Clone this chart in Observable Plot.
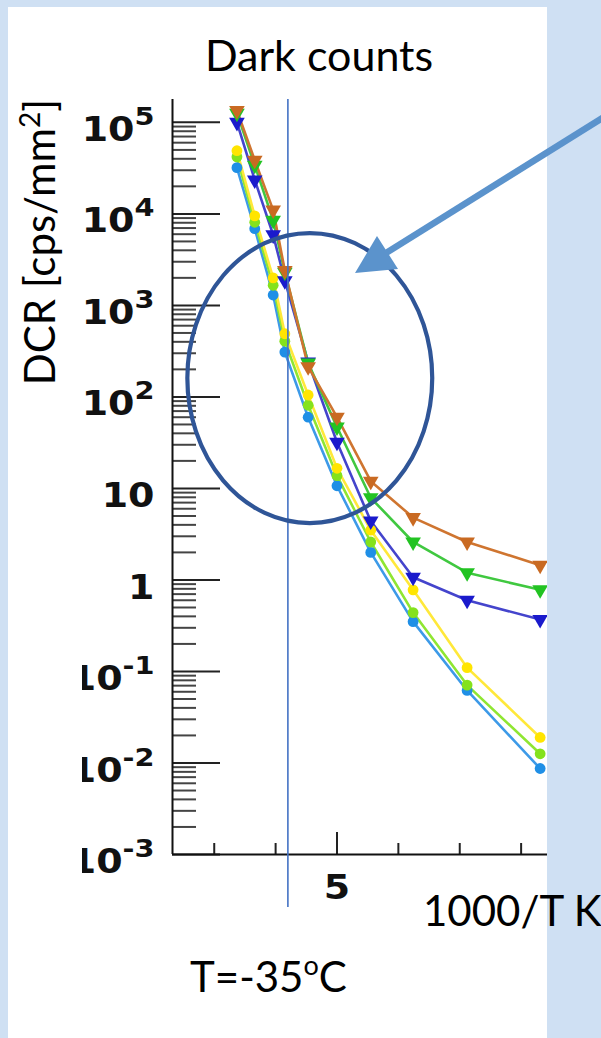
<!DOCTYPE html>
<html><head><meta charset="utf-8">
<script src="https://cdn.jsdelivr.net/npm/d3@7"></script>
<script src="https://cdn.jsdelivr.net/npm/@observablehq/plot@0.6"></script>
<style>
html,body{margin:0;padding:0}
body{width:601px;height:1038px;background:#cfe0f3;position:relative;overflow:hidden;font-family:Lato,"Open Sans",sans-serif}
#panel{position:absolute;left:8px;top:7px;width:539px;height:1031px;background:#fff}
#chart{position:absolute;left:0;top:0;width:547px;height:1038px;overflow:hidden}
#chart svg{max-width:none;display:block}
#cover{position:absolute;left:8px;top:600px;width:74px;height:300px;background:#fff}
#overlay{position:absolute;left:0;top:0}
</style></head><body>
<div id="panel"></div>
<div id="chart"></div>
<div id="cover"></div>
<svg id="overlay" width="601" height="1038" font-family="Lato, 'Open Sans', sans-serif" fill="#000">
  <text x="319" y="71" text-anchor="middle" font-size="43">Dark counts</text>
  <text transform="translate(55,242) rotate(-90)" text-anchor="middle" font-size="42">DCR [cps/mm<tspan dy="-15" font-size="28">2</tspan><tspan dy="15">]</tspan></text>
  <text x="423" y="926" font-size="42">1000/T K</text>
  <text x="190" y="992" font-size="42">T=-35<tspan dy="-17" font-size="27">o</tspan><tspan dy="17">C</tspan></text>
  <line x1="612" y1="112" x2="386" y2="253" stroke="#5b93cc" stroke-width="6.5"/>
  <polygon points="355,273 377,236 398,269" fill="#5b93cc"/>
</svg>
<script>
// ---- data ----
const invT = [3.37, 3.66, 3.96, 4.15, 4.53, 5.0, 5.55, 6.24, 7.12, 8.31]; // 1000/T [1/K]
const seriesNames = ["lightblue", "lightgreen", "yellow", "navy", "green", "orange"];
const dcrLightBlue  = [32000, 6900, 1300, 309, 60, 10.7, 2.0, 0.35, 0.062, 0.0087];
const dcrLightGreen = [42000, 8100, 1660, 407, 81, 13.8, 2.6, 0.44, 0.071, 0.0126];
const dcrYellow     = [49000, 9500, 2000, 490, 105, 16.6, 3.5, 0.78, 0.11, 0.019];
const dcrNavy       = [100000, 23500, 5900, 1860, 240, 32, 4.4, 1.07, 0.60, 0.37];
const dcrGreen      = [126000, 34000, 8500, 2300, 234, 47, 7.9, 2.6, 1.2, 0.78];
const dcrOrange     = [135000, 38500, 11000, 2400, 214, 60, 12, 4.8, 2.6, 1.45];
const seriesValues = [dcrLightBlue, dcrLightGreen, dcrYellow, dcrNavy, dcrGreen, dcrOrange];
const seriesColors = ["#1f8fe6", "#84e21c", "#ffe500", "#1a1acc", "#22c322", "#c96a22"];
const lineColors   = ["#3d9ae8", "#8fe632", "#ffe83a", "#4444cc", "#40c840", "#cf7530"];
const seriesMarker = ["circle", "circle", "circle", "triangleDown", "triangleDown", "triangleDown"];

const yMajorTicks = [1e5, 1e4, 1e3, 1e2, 10, 1, 0.1, 0.01, 0.001];
const yTickLabels = ["10^5", "10^4", "10^3", "10^2", "10", "1", "10^-1", "10^-2", "10^-3"];
const xMinorTicks = [3, 4, 6, 7, 8];
const xMajorTicks = [5];
const xTickLabels = ["5"];
const xDomain = [2.32, 9];
const yDomain = [0.001, 177800];
const markerLine = [4.2]; // T = -35 C
const ellipseX = [2.57, 6.56];
const ellipseY = [4.13, 6100];

// ---- build ----
const yMinorTicks = d3.scaleLog().domain([1e-3, 1e5]).ticks().filter(v => !yMajorTicks.some(m => Math.abs(m - v) / m < 1e-9));
const yLabelMap = new Map(yMajorTicks.map((v, i) => [v, yTickLabels[i]]));
const xLabelMap = new Map(xMajorTicks.map((v, i) => [v, xTickLabels[i]]));

const triDown = {
  draw(ctx, size) {
    const a = Math.sqrt(size * 4 / Math.sqrt(3));
    const h = a * Math.sqrt(3) / 2;
    ctx.moveTo(0, 2 * h / 3);
    ctx.lineTo(-a / 2, -h / 3);
    ctx.lineTo(a / 2, -h / 3);
    ctx.closePath();
  }
};

const seriesMarks = [];
seriesNames.forEach((name, s) => {
  const rows = invT.map((x, i) => ({x, y: seriesValues[s][i], series: name}));
  seriesMarks.push(Plot.line(rows, {x: "x", y: "y", stroke: lineColors[s], strokeWidth: 2.6}));
});
seriesNames.forEach((name, s) => {
  const rows = invT.map((x, i) => ({x, y: seriesValues[s][i], series: name}));
  const tri = seriesMarker[s] === "triangleDown";
  seriesMarks.push(Plot.dot(rows, {x: "x", y: "y", fill: seriesColors[s], stroke: "none",
    symbol: tri ? triDown : "circle", r: tri ? 5.8 : 5.4}));
});

function ellipseMark(index, scales) {
  const x0 = scales.x(ellipseX[0]), x1 = scales.x(ellipseX[1]);
  const y0 = scales.y(ellipseY[0]), y1 = scales.y(ellipseY[1]);
  const e = document.createElementNS("http://www.w3.org/2000/svg", "ellipse");
  e.setAttribute("cx", (x0 + x1) / 2);
  e.setAttribute("cy", (y0 + y1) / 2);
  e.setAttribute("rx", Math.abs(x1 - x0) / 2);
  e.setAttribute("ry", Math.abs(y1 - y0) / 2);
  e.setAttribute("fill", "none");
  e.setAttribute("stroke", "#2f5597");
  e.setAttribute("stroke-width", 4.2);
  return e;
}

const tickFont = {fontFamily: "DejaVu Sans", fontWeight: "bold", fontSize: 33, fill: "#111"};

const chart = Plot.plot({
  width: 600, height: 1038,
  marginLeft: 172, marginRight: 18, marginTop: 99, marginBottom: 184,
  style: {background: "transparent", overflow: "visible"},
  x: {type: "linear", domain: xDomain},
  y: {type: "log", domain: yDomain},
  marks: [
    Plot.axisY(yMinorTicks, {tickSize: -24, text: null, stroke: "#444", strokeWidth: 2, label: null}),
    Plot.axisY(yMajorTicks, {tickSize: -48, text: null, stroke: "#222", strokeWidth: 2, label: null}),
    Plot.axisY(yMajorTicks, {tickSize: 0, tickPadding: 18, dy: 8, tickFormat: d => yLabelMap.get(d), label: null, ...tickFont}),
    Plot.axisX(xMinorTicks, {tickSize: -11, text: null, stroke: "#222", strokeWidth: 2, label: null}),
    Plot.axisX(xMajorTicks, {tickSize: -22, text: null, stroke: "#222", strokeWidth: 2, label: null}),
    Plot.axisX(xMajorTicks, {tickSize: 0, tickPadding: 21, tickFormat: d => xLabelMap.get(d), label: null, ...tickFont}),
    Plot.ruleX([xDomain[0]], {stroke: "#111", strokeWidth: 2}),
    Plot.ruleY([yDomain[0]], {stroke: "#111", strokeWidth: 2}),
    ...seriesMarks,
    Plot.ruleX(markerLine, {stroke: "#4472c4", strokeWidth: 1.6, insetBottom: -53}),
    ellipseMark
  ]
});

// superscripts + horizontal stretch on tick labels
const NS = "http://www.w3.org/2000/svg";
chart.querySelectorAll('g[aria-label="y-axis tick label"] text, g[aria-label="x-axis tick label"] text').forEach(t => {
  const parts = t.textContent.split("^");
  if (parts.length === 2) {
    t.textContent = "";
    const b = document.createElementNS(NS, "tspan"); b.textContent = parts[0];
    const sp = document.createElementNS(NS, "tspan"); sp.textContent = parts[1];
    sp.setAttribute("font-size", 25); sp.setAttribute("dy", -16);
    t.append(b, sp);
  }
  const tr = t.getAttribute("transform");
  if (tr) t.setAttribute("transform", tr + " scale(1.15,1)");
});

document.getElementById("chart").append(chart);
</script>
</body></html>
